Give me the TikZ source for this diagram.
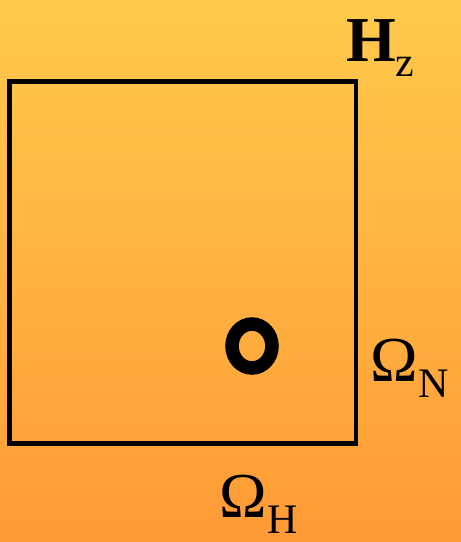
\documentclass[tikz,border=0pt]{standalone}
\usepackage{fontspec}
\setmainfont{Liberation Serif}
\definecolor{bgtop}{HTML}{FFCA4C}
\definecolor{bgbot}{HTML}{FF9A36}
\begin{document}
\begin{tikzpicture}[x=1pt,y=-1pt,
  lbl/.style={inner sep=0pt,anchor=base west,font=\fontsize{64}{70}\selectfont},
  frame/.style={draw=black,line width=4.5pt},
  ringstyle/.style={draw=black,line width=13.5pt}]
\useasboundingbox (0,0) rectangle (461,542);
\shade[top color=bgtop,bottom color=bgbot] (0,0) rectangle (461,542);
\draw[frame] (9.3,81.3) rectangle (356,443.5);
\draw[ringstyle] (252,346) ellipse [x radius=20, y radius=22];
\node[lbl] (hz) at (346,61) {\textbf{H}\raisebox{-15pt}{\fontsize{42}{46}\selectfont z}};
\node[lbl] (on) at (370.5,381) {Ω\raisebox{-16pt}{\fontsize{42}{46}\selectfont N}};
\node[lbl] (oh) at (219.5,517) {Ω\raisebox{-16pt}{\fontsize{42}{46}\selectfont H}};
\end{tikzpicture}
\end{document}
